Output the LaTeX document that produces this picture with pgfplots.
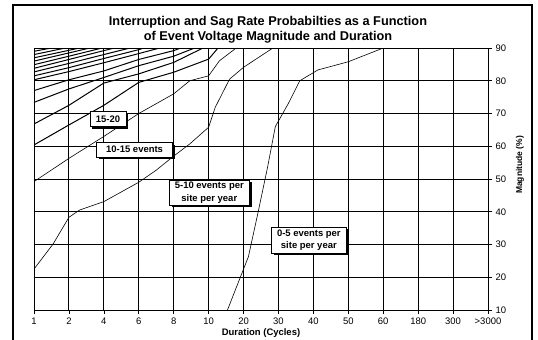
\documentclass[border=0pt]{standalone}
\usepackage{pgfplots}
\pgfplotsset{compat=1.18}
\usepackage{fontspec}
\setmainfont{Liberation Sans}
\usetikzlibrary{shadows}
\begin{document}
\begin{tikzpicture}
\useasboundingbox (0,0) rectangle (538bp,340bp);
\draw[line width=1.5bp] (13bp,-20bp) -- (13bp,335bp) -- (532bp,335bp) -- (532bp,-20bp);
\node[font=\bfseries\fontsize{12.8}{14.6}\selectfont, align=center] at (268bp,310bp) {Interruption and Sag Rate Probabilties as a Function\\of Event Voltage Magnitude and Duration};
\node[font=\bfseries\fontsize{8.5}{10}\selectfont, rotate=90] at (520bp,175bp) {Magnitude (\%)};
\begin{axis}[
  at={(34bp,30bp)}, anchor=south west,
  width=454bp, height=262bp, scale only axis,
  xmin=0, xmax=13, ymin=10, ymax=90,
  xtick={0,...,13},
  xticklabels={1,2,4,6,8,10,20,30,40,50,60,180,300,>3000},
  ytick={10,20,...,90},
  xtick pos=bottom, ytick pos=right, yticklabel pos=right,
  tick align=outside, major tick length=4bp,
  grid=major,
  major grid style={black, line width=1bp},
  axis line style={black, line width=1bp},
  tick style={black, line width=0.6bp},
  ticklabel style={font=\fontsize{9.5}{11}\selectfont},
  /pgf/number format/assume math mode=true,
  xlabel={Duration (Cycles)},
  xlabel style={font=\bfseries\fontsize{9.5}{11}\selectfont, at={(axis description cs:0.5,0)}, anchor=center, yshift=-23bp},
]
% boundary curves
\addplot[black, line width=0.6bp] coordinates {(5.54,10)(6.14,26.3)(6.42,40)(6.69,53.7)(6.91,66)(7.28,73)(7.61,80)(8.13,83.3)(9,85.8)(10,90)};
\addplot[black, line width=0.6bp] coordinates {(0,22.5)(0.55,30.2)(1,38.3)(1.3,40.5)(2,43.1)(3,49)(3.5,52.7)(4,57)(4.46,60.7)(5,65.8)(5.19,71.9)(5.6,80.5)(6,84.1)(6.84,90)};
\addplot[black, line width=0.6bp] coordinates {(0,49.2)(1,56.3)(2,63)(3,70)(4,76)(4.46,80)(5,81.5)(5.31,86.1)(5.79,90)};
\addplot[black, line width=1bp] coordinates {(0,60.4)(1,66.5)(2,72.5)(3,79.5)(4,82.6)(5,86.6)(5.27,90)};
\addplot[black, line width=1bp] coordinates {(0,66.8)(1,72.5)(2,79.3)(3,82.1)(4,85.6)(4.84,90)};
\addplot[black, line width=1bp] coordinates {(0,73.4)(1,77.5)(2,81)(3,84.6)(4,87.5)(4.6,90)};
\addplot[black, line width=1bp] coordinates {(0,77)(1,80.3)(2,83)(3,86.5)(4,89.2)(4.2,90)};
\addplot[black, line width=1bp] coordinates {(0,80.3)(1,82.8)(2,85.5)(3,88.3)(3.6,90)};
\addplot[black, line width=1bp] coordinates {(0,81.5)(1,84)(2,86.8)(3,89.5)(3.15,90)};
\addplot[black, line width=1bp] coordinates {(0,82.7)(1,85.3)(2,88)(2.75,90)};
\addplot[black, line width=1bp] coordinates {(0,83.8)(1,86.5)(2,89.2)(2.3,90)};
\addplot[black, line width=1bp] coordinates {(0,84.9)(1,87.5)(1.95,90)};
\addplot[black, line width=1bp] coordinates {(0,86)(1,88.5)(1.6,90)};
\addplot[black, line width=1bp] coordinates {(0,87)(1,89.3)(1.3,90)};
\addplot[black, line width=1bp] coordinates {(0,88)(0.9,90)};
\addplot[black, line width=1bp] coordinates {(0,89)(0.5,90)};
% labels
\tikzset{lbl/.style={draw=black, fill=white, line width=0.8bp, inner sep=0pt, align=center,
  font=\bfseries\fontsize{9.5}{12.6}\selectfont,
  drop shadow={shadow xshift=2.2bp, shadow yshift=-2.2bp, fill=black, opacity=1}}}
\node[lbl, minimum width=36bp, minimum height=15bp] at (axis cs:2.12,68.3) {15-20};
\node[lbl, minimum width=76bp, minimum height=14.5bp] at (axis cs:2.88,58.95) {10-15 events};
\node[lbl, minimum width=80bp, minimum height=25bp] at (axis cs:5.02,45.9) {5-10 events per\\site per year};
\node[lbl, minimum width=75bp, minimum height=26bp] at (axis cs:7.87,31.3) {0-5 events per\\site per year};
\end{axis}
\end{tikzpicture}
\end{document}
